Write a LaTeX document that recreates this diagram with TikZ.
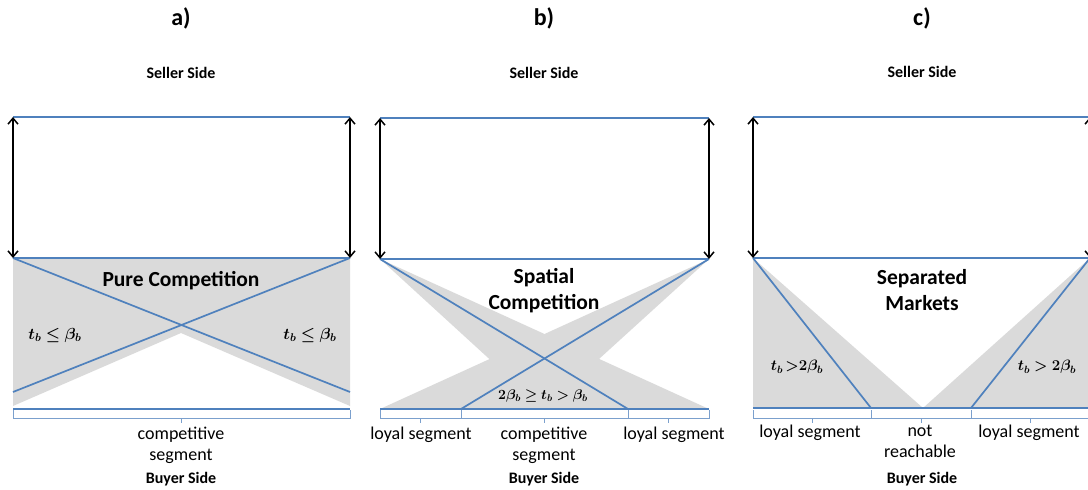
\RequirePackage{fix-cm}
\documentclass[tikz,border=0pt]{standalone}
\usepackage{amsmath,bm}
\usepackage{fontspec}
\setmainfont{Carlito}
\usetikzlibrary{arrows.meta}
\definecolor{lineblue}{RGB}{79,129,189}
\definecolor{shade}{RGB}{218,218,218}
\tikzset{market/.style={draw=lineblue,line width=1.7pt},
  reach/.style={fill=shade},
  span/.style={draw=black,line width=1.5pt,{Straight Barb[length=6pt,width=10pt]}-{Straight Barb[length=6pt,width=10pt]}},
  bracket/.style={draw=lineblue!75,line width=0.7pt},
  title/.style={font=\bfseries\fontsize{24}{26}\selectfont},
  side/.style={font=\bfseries\fontsize{16}{18}\selectfont},
  regime/.style={font=\bfseries\fontsize{21.5}{26}\selectfont,align=center},
  seg/.style={font=\fontsize{18}{21}\selectfont,align=center,anchor=north,inner sep=0pt},
  cond/.style={font=\fontsize{16}{18}\selectfont},
  condsmall/.style={font=\fontsize{14}{16}\selectfont},
  condmid/.style={font=\fontsize{15}{17}\selectfont}}
\newcommand{\segbracket}[2]{\draw[bracket] (#1,410) |- (#2,418) -- (#2,410) ({(#1+#2)/2},418) -- ++(0,5);}

\begin{document}
\begin{tikzpicture}[x=1pt,y=-1pt]
  \useasboundingbox (0,0) rectangle (1088,490);

  % a) pure competition
  \fill[reach] (13,258) -- (350,258) -- (350,406) -- (181,333) -- (13,406) -- cycle;
  \coordinate (aTL) at (13,117); \coordinate (aTR) at (350,117);
  \coordinate (aML) at (13,258); \coordinate (aMR) at (350,258);
  \coordinate (aBL) at (13,409); \coordinate (aBR) at (350,409);
  \draw[market] (aTL) -- (aTR);
  \draw[market] (aML) -- (aMR);
  \draw[market] (aBL) -- (aBR);
  \draw[market] (aML) -- (350,392);
  \draw[market] (aMR) -- (13,392);
  \draw[span] (aTL) -- (aML);
  \draw[span] (aTR) -- (aMR);
  \segbracket{13}{350}
  \node[title] (atitle) at (181,18) {a)};
  \node[side] (aseller) at (181,73) {Seller Side};
  \node[regime] (aregime) at (181,281) {Pure Competition};
  \node[cond] (acondl) at (55,335) {$\bm{t_b \le \beta_b}$};
  \node[cond] (acondr) at (310,335) {$\bm{t_b \le \beta_b}$};
  \node[seg] (aseg) at (181,427) {competitive\\segment};
  \node[side] (abuyer) at (181,479) {Buyer Side};

  % b) spatial competition
  \fill[reach] (380,259) -- (709,409) -- (544,409) -- cycle;
  \fill[reach] (709,259) -- (380,409) -- (544,409) -- cycle;
  \coordinate (bTL) at (380,118); \coordinate (bTR) at (709,118);
  \coordinate (bML) at (380,259); \coordinate (bMR) at (709,259);
  \coordinate (bBL) at (380,409); \coordinate (bBR) at (709,409);
  \draw[market] (bTL) -- (bTR);
  \draw[market] (bML) -- (bMR);
  \draw[market] (bBL) -- (bBR);
  \draw[market] (bML) -- (628,409);
  \draw[market] (bMR) -- (461,409);
  \draw[span] (bTL) -- (bML);
  \draw[span] (bTR) -- (bMR);
  \segbracket{380}{461}
  \segbracket{461}{628}
  \segbracket{628}{709}
  \node[title] (btitle) at (544,18) {b)};
  \node[side] (bseller) at (544,73) {Seller Side};
  \node[regime] (bregime) at (544,291) {Spatial\\Competition};
  \node[condsmall] (bcond) at (543,396) {$\bm{2\beta_b \ge t_b > \beta_b}$};
  \node[seg] (bsegl) at (421,427) {loyal segment};
  \node[seg] (bsegm) at (544,427) {competitive\\segment};
  \node[seg] (bsegr) at (674,427) {loyal segment};
  \node[side] (bbuyer) at (544,479) {Buyer Side};

  % c) separated markets
  \fill[reach] (753,258) -- (923,408) -- (753,408) -- cycle;
  \fill[reach] (1090,258) -- (1090,408) -- (923,408) -- cycle;
  \coordinate (cTL) at (753,117); \coordinate (cTR) at (1090,117);
  \coordinate (cML) at (753,258); \coordinate (cMR) at (1090,258);
  \coordinate (cBL) at (753,408); \coordinate (cBR) at (1090,408);
  \draw[market] (cTL) -- (cTR);
  \draw[market] (cML) -- (cMR);
  \draw[market] (cBL) -- (cBR);
  \draw[market] (cML) -- (871,408);
  \draw[market] (cMR) -- (971,408);
  \draw[span] (cTL) -- (cML);
  \draw[span] (cTR) -- (cMR);
  \segbracket{753}{871}
  \segbracket{871}{971}
  \segbracket{971}{1090}
  \node[title] (ctitle) at (922,18) {c)};
  \node[side] (cseller) at (922,72) {Seller Side};
  \node[regime] (cregime) at (922,290) {Separated\\Markets};
  \node[condmid] (ccondl) at (797,367) {$\bm{t_b\,{>}2\beta_b}$};
  \node[condmid] (ccondr) at (1047,367) {$\bm{t_b > 2\beta_b}$};
  \node[seg] (csegl) at (810,425) {loyal segment};
  \node[seg] (csegm) at (920,425) {not\\reachable};
  \node[seg] (csegr) at (1029,425) {loyal segment};
  \node[side] (cbuyer) at (922,479) {Buyer Side};
\end{tikzpicture}
\end{document}
